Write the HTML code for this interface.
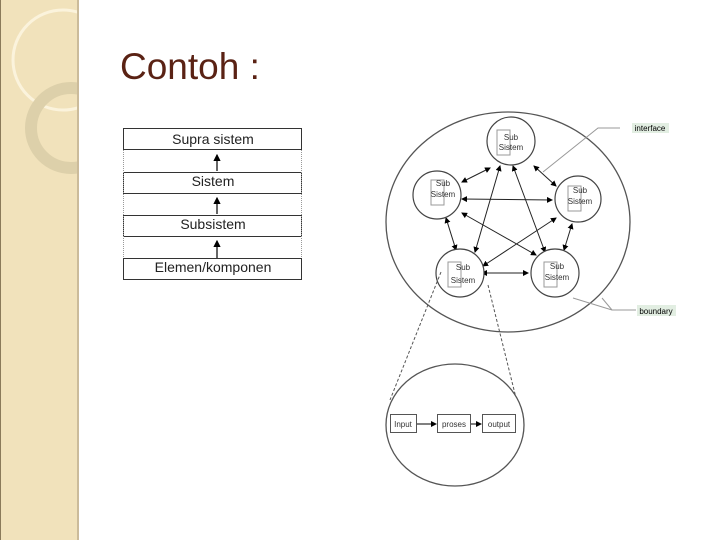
<!DOCTYPE html>
<html><head><style>
body{margin:0;width:720px;height:540px;overflow:hidden;background:#fff;font-family:"Liberation Sans",sans-serif;position:relative}
.strip{position:absolute;left:0;top:0;width:76px;height:540px;background:#f1e2bb;border-left:1px solid #8a7a5a;border-right:2px solid #cbbb9a}
.title{position:absolute;left:120px;top:46px;font-size:37px;color:#5a2214}
</style></head><body>
<div class="strip">
<svg width="76" height="540" style="position:absolute;left:0;top:0">
<circle cx="62" cy="60" r="50" fill="none" stroke="#fbf3dc" stroke-width="3"/>
<circle cx="70" cy="128" r="40" fill="none" stroke="#ddd0aa" stroke-width="12"/>
</svg>
</div>
<div class="title">Contoh :</div>
<svg width="720" height="540" style="position:absolute;left:0;top:0" font-family="Liberation Sans, sans-serif">
<defs><marker id="a" markerWidth="6" markerHeight="6" refX="5" refY="3" orient="auto"><path d="M0,0L6,3L0,6z" fill="#000"/></marker>
<marker id="b" markerWidth="6" markerHeight="6" refX="1" refY="3" orient="auto"><path d="M6,0L0,3L6,6z" fill="#000"/></marker></defs>
<!-- table -->
<g fill="#fff" stroke="#333" stroke-width="1">
<rect x="123.5" y="128.5" width="178" height="21"/>
<rect x="123.5" y="172.5" width="178" height="21"/>
<rect x="123.5" y="215.5" width="178" height="21"/>
<rect x="123.5" y="258.5" width="178" height="21"/>
</g>
<g stroke="#999" stroke-dasharray="1,1"><line x1="123.5" y1="150" x2="123.5" y2="258"/><line x1="301.5" y1="150" x2="301.5" y2="258"/></g>
<g stroke="#000" stroke-width="1.2" marker-end="url(#a)"><line x1="217" y1="171" x2="217" y2="155"/><line x1="217" y1="214" x2="217" y2="198"/><line x1="217" y1="258" x2="217" y2="241"/></g>
<g font-size="14" text-anchor="middle" fill="#222"><text x="213" y="144">Supra sistem</text><text x="213" y="186">Sistem</text><text x="213" y="229">Subsistem</text><text x="213" y="272">Elemen/komponen</text></g>
<!-- big circle -->
<ellipse cx="508" cy="222" rx="122" ry="110" fill="none" stroke="#555" stroke-width="1.3"/>
<g stroke="#222" stroke-width="1" marker-end="url(#a)" marker-start="url(#b)">
<line x1="490" y1="168" x2="462" y2="182"/>
<line x1="534" y1="166" x2="556" y2="186"/>
<line x1="462" y1="199" x2="552" y2="200"/>
<line x1="446" y1="218" x2="456" y2="250"/>
<line x1="572" y1="224" x2="564" y2="250"/>
<line x1="482" y1="273" x2="528" y2="273"/>
<line x1="500" y1="166" x2="475" y2="252"/>
<line x1="513" y1="166" x2="545" y2="252"/>
<line x1="462" y1="213" x2="536" y2="255"/>
<line x1="556" y1="218" x2="483" y2="266"/>
</g>
<g fill="#fff" stroke="#444" stroke-width="1.2">
<circle cx="511" cy="141" r="24"/><circle cx="437" cy="195" r="24"/><circle cx="578" cy="199" r="23"/><circle cx="460" cy="273" r="24"/><circle cx="555" cy="273" r="24"/>
</g>
<g fill="#fff" stroke="#999"><rect x="497" y="130" width="13" height="25"/><rect x="431" y="180" width="13" height="25"/><rect x="568" y="186" width="13" height="25"/><rect x="448" y="262" width="13" height="25"/><rect x="544" y="262" width="13" height="25"/></g>
<g font-size="8" text-anchor="middle" fill="#333">
<text x="511" y="140">Sub</text><text x="511" y="150">Sistem</text>
<text x="443" y="186">Sub</text><text x="443" y="197">Sistem</text>
<text x="580" y="193">Sub</text><text x="580" y="204">Sistem</text>
<text x="463" y="270">Sub</text><text x="463" y="283">Sistem</text>
<text x="557" y="269">Sub</text><text x="557" y="280">Sistem</text>
</g>
<g stroke="#999" fill="none"><polyline points="620,128 598,128 543,172"/><polyline points="636,310 612,310 573,298"/><line x1="612" y1="310" x2="602" y2="298"/></g>
<rect x="632" y="123" width="37" height="10" fill="#e2eee2"/><text x="650" y="131" font-size="8" text-anchor="middle">interface</text>
<rect x="637" y="305" width="39" height="11" fill="#e2eee2"/><text x="656" y="314" font-size="8" text-anchor="middle">boundary</text>
<!-- zoom -->
<g stroke="#555" stroke-dasharray="3,2"><line x1="441" y1="272" x2="390" y2="400"/><line x1="488" y1="285" x2="519" y2="410"/></g>
<ellipse cx="455" cy="425" rx="69" ry="61" fill="#fff" stroke="#555" stroke-width="1.3"/>
<g fill="#fff" stroke="#555"><rect x="390.5" y="414.5" width="26" height="18"/><rect x="437.5" y="414.5" width="33" height="18"/><rect x="482.5" y="414.5" width="33" height="18"/></g>
<g stroke="#000" marker-end="url(#a)"><line x1="417" y1="424" x2="436" y2="424"/><line x1="471" y1="424" x2="481" y2="424"/></g>
<g font-size="8" text-anchor="middle" fill="#333"><text x="403" y="427">Input</text><text x="454" y="427">proses</text><text x="499" y="427">output</text></g>
</svg>
</body></html>
